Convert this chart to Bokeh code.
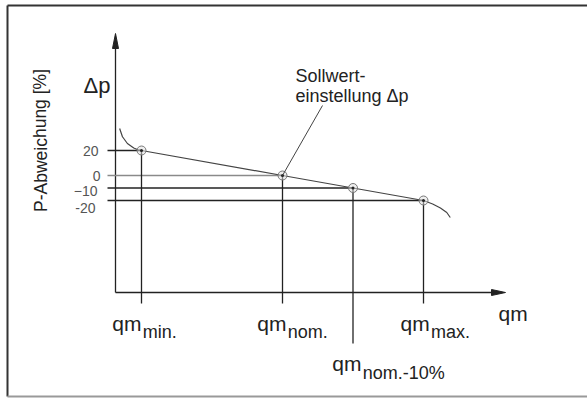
from bokeh.plotting import figure
from bokeh.models import Range1d, ColumnDataSource
from bokeh.core.properties import value
from bokeh.embed import file_html
from bokeh.resources import INLINE

# ---------------- data ----------------
qm_names = ["min.", "nom.", "nom.-10%", "max."]
qm_rel = [1, 3, 4, 5]                 # relative flow positions
dp_pct = [20, 0, -10, -20]            # pressure deviation [%]
tick_labels = ["20", "0", "\u221210", "-20"]

# characteristic curve (with bends at both ends)
curve_q = [0.69, 0.73, 0.80, 0.89, 0.95, 1, 3, 4, 5, 5.13, 5.24, 5.33, 5.38]
curve_dp = [37.6, 31.0, 25.6, 22.0, 20.6, 20, 0, -10, -20, -22.8, -26.0, -29.6, -33.6]

# ---------------- layout helpers (pixel -> data) ----------------
W, H = 587, 398
PXU = 70.5   # pixels per qm unit
PYU = 1.25   # pixels per % unit
def X(px):
    return px / PXU - 1.0
def Y(py):
    return 140.0 - py / PYU

FONT = value("Liberation Sans")
DARK = "#222222"

p = figure(width=W, height=H, x_range=Range1d(X(0), X(W)), y_range=Range1d(Y(H), Y(0)),
           output_backend="svg", toolbar_location=None, min_border=0,
           x_axis_type=None, y_axis_type=None)
p.grid.visible = False
p.outline_line_color = None
p.background_fill_color = "white"
p.border_fill_color = "white"

# frame box
p.line([X(7), X(7)], [Y(396), Y(5)], line_color="#333333", line_width=2)
p.line([X(7), X(600)], [Y(5), Y(5)], line_color="#333333", line_width=2)
p.line([X(7), X(600)], [Y(396), Y(396)], line_color="#999999", line_width=2)

# axes with arrow heads
ax_x0, ax_y0 = 115, 292
p.line([X(ax_x0), X(ax_x0)], [Y(ax_y0), Y(44)], line_color=DARK, line_width=1.3)
p.line([X(ax_x0), X(494)], [Y(ax_y0), Y(ax_y0)], line_color=DARK, line_width=1.3)
p.patch([X(ax_x0 - 3), X(ax_x0), X(ax_x0 + 3)], [Y(48), Y(33), Y(48)], color=DARK)
p.patch([X(491), X(505), X(491)], [Y(ax_y0 - 3), Y(ax_y0), Y(ax_y0 + 3)], color=DARK)

# horizontal reference lines from left of axis to each point
h_left = X(107)
h_colors = [DARK, "#8a8a8a", DARK, DARK]
for q, d, c in zip(qm_rel, dp_pct, h_colors):
    p.line([h_left, q], [d, d], line_color=c, line_width=1.3)

# vertical drop lines
v_bottom = [Y(303), Y(303), Y(343), Y(303)]
for q, d, b in zip(qm_rel, dp_pct, v_bottom):
    p.line([q, q], [d, b], line_color=DARK, line_width=1.3)

# characteristic curve
p.line(curve_q, curve_dp, line_color="#444444", line_width=1.2)

# point markers
p.scatter(qm_rel, dp_pct, size=9, fill_color="#dddddd", fill_alpha=0.5,
          line_color="#777777", line_width=1)
p.scatter(qm_rel, dp_pct, size=3, fill_color="#222222", line_color=None)

# leader line to set point
p.line([X(322), qm_rel[1]], [Y(105), dp_pct[1]], line_color="#444444", line_width=1)

# y tick labels
src_t = ColumnDataSource(dict(x=[X(99)] * 4, y=dp_pct, t=tick_labels,
                              xo=[-1, 1, -2, -4], yo=[0, 0, 3, 7]))
p.text(x="x", y="y", text="t", x_offset="xo", y_offset="yo", source=src_t,
       text_font=FONT, text_font_size=value("14px"), text_color="#555555",
       text_align="right", text_baseline="middle")

# axis titles
p.text(x=[X(83)], y=[Y(85)], text=["\u0394p"], text_font=FONT,
       text_font_size=value("22px"), text_color=DARK, text_baseline="alphabetic")
p.text(x=[X(40)], y=[Y(140)], text=["P-Abweichung [%]"], angle=1.5708,
       text_font=FONT, text_font_size=value("17.5px"), text_color=DARK,
       text_align="center", text_baseline="middle")
p.text(x=[X(498)], y=[Y(313)], text=["qm"], text_font=FONT,
       text_font_size=value("21px"), text_color=DARK, text_baseline="alphabetic")

# annotation text
p.text(x=[X(295), X(295)], y=[Y(75), Y(95)], text=["Sollwert-", "einstellung \u0394p"],
       text_font=FONT, text_font_size=value("18px"), text_color=DARK,
       text_baseline="alphabetic")

# qm labels with subscripts
lab_xo = [-29.3, -25.3, -20.7, -23.0]
lab_base = [Y(322.7), Y(322.7), Y(363.0), Y(322.7)]
src_q = ColumnDataSource(dict(x=qm_rel, y=lab_base, xo=lab_xo,
                              xs=[o + 30.5 for o in lab_xo],
                              t=["qm"] * 4, s=qm_names))
p.text(x="x", y="y", text="t", x_offset="xo", source=src_q, text_font=FONT,
       text_font_size=value("21px"), text_color=DARK, text_baseline="alphabetic")
p.text(x="x", y="y", text="s", x_offset="xs", y_offset=9, source=src_q, text_font=FONT,
       text_font_size=value("18px"), text_color=DARK, text_baseline="alphabetic")

open("out.html", "w").write(file_html(p, INLINE))
